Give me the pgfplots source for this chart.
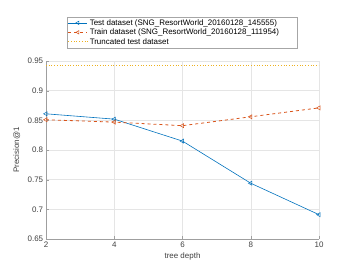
\documentclass[border=0pt]{standalone}
\usepackage{pgfplots}
\pgfplotsset{compat=1.18}
\usepackage{fontspec}
\setmainfont{Liberation Sans}
\definecolor{mblue}{rgb}{0,0.447,0.741}
\definecolor{morange}{rgb}{0.85,0.325,0.098}
\definecolor{myellow}{rgb}{0.929,0.694,0.125}
\begin{document}
\fontsize{8}{9}\selectfont
\begin{tikzpicture}[x=1bp,y=1bp]
\path[use as bounding box] (-46bp,-26bp) rectangle (307bp,239bp);
\begin{axis}[
  at={(0,0)}, anchor=south west,
  scale only axis, width=273bp, height=178bp,
  xmin=2, xmax=10, ymin=0.65, ymax=0.95,
  axis lines*=left,
  xtick={2,4,6,8,10},
  ytick={0.65,0.7,0.75,0.8,0.85,0.9,0.95},
  yticklabel style={/pgf/number format/.cd, fixed, precision=2},
  /pgf/number format/assume math mode=true,
  tick label style={font=\fontsize{8}{9}\selectfont, text=black!75},
  label style={font=\fontsize{8}{9}\selectfont, text=black!75},
  xlabel={tree depth}, ylabel={Precision@1},
  xlabel style={yshift=0bp},
  ylabel style={yshift=2bp},
  grid=major, major grid style={gray!20, line width=0.5pt},
  axis line style={gray!75, line width=0.7pt},
  tick align=inside, major tick length=2.5bp,
  tick style={gray!75},
  legend style={at={(0.5,1)}, anchor=south, yshift=13bp,
    font=\fontsize{8}{9}\selectfont, draw=gray!70, line width=0.5pt,
    inner sep=0.5pt, row sep=-1.5pt, legend cell align=left},
  legend image post style={mark size=2pt},
  legend image code/.code={\draw[mark repeat=2,mark phase=2] plot coordinates {(0bp,0bp) (9.5bp,0bp) (19bp,0bp)};},
]
\addplot[mblue, line width=0.6pt, mark=triangle, mark options={rotate=90, solid, line width=0.5pt}, mark size=2.4pt]
 coordinates {(2,0.861) (4,0.852) (6,0.815) (8,0.744) (10,0.691)};
\addlegendentry{Test dataset (SNG\_ResortWorld\_20160128\_145555)\hspace*{18bp}}
\addplot[morange, dashed, line width=0.8pt, mark=triangle, mark options={rotate=90, solid, line width=0.5pt}, mark size=2.4pt]
 coordinates {(2,0.851) (4,0.847) (6,0.841) (8,0.856) (10,0.871)};
\addlegendentry{Train dataset (SNG\_ResortWorld\_20160128\_111954)}
\addplot[myellow, dash pattern=on 1bp off 1.7bp, line width=0.7pt]
 coordinates {(2,0.942) (10,0.942)};
\addlegendentry{Truncated test dataset}
\end{axis}
\end{tikzpicture}
\end{document}
